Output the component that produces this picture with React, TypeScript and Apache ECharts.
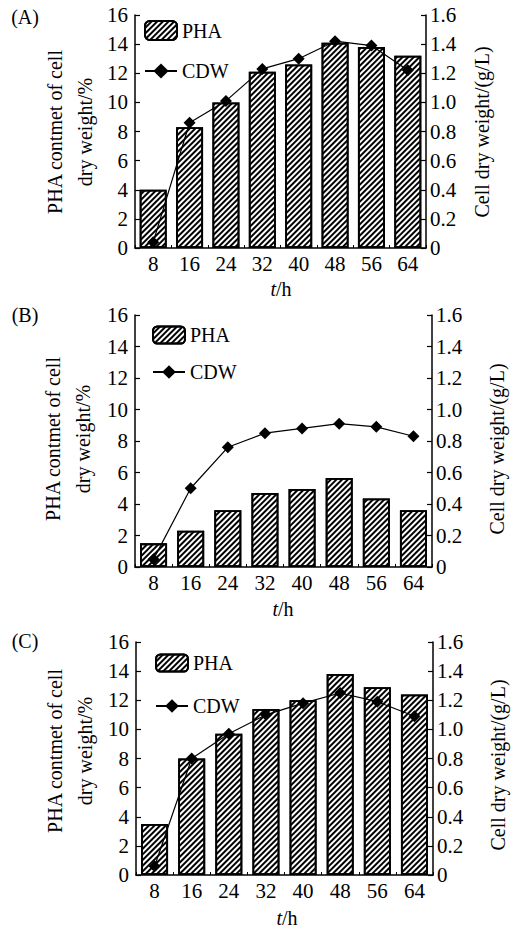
import React, { useEffect, useRef } from "react";
import * as echarts from "echarts";

const hours = ["8", "16", "24", "32", "40", "48", "56", "64"];
const phaA = [4.0, 8.3, 10.0, 12.1, 12.6, 14.1, 13.8, 13.2];
const cdwA = [0.04, 0.86, 1.01, 1.23, 1.3, 1.42, 1.39, 1.22];
const phaB = [1.5, 2.3, 3.6, 4.7, 4.95, 5.65, 4.35, 3.6];
const cdwB = [0.05, 0.5, 0.76, 0.85, 0.88, 0.91, 0.89, 0.83];
const phaC = [3.5, 8.0, 9.7, 11.4, 12.0, 13.8, 12.9, 12.4];
const cdwC = [0.06, 0.8, 0.97, 1.1, 1.18, 1.25, 1.19, 1.09];
const leftTicks = { min: 0, max: 16, interval: 2 };
const rightTicks = { min: 0, max: 1.6, interval: 0.2 };
const panelLabels = ["(A)", "(B)", "(C)"];
const leftTitle = "PHA contmet of cell\ndry weight/%";
const rightTitle = "Cell dry weight/(g/L)";

const FONT = "Liberation Serif";

export default function App() {
  const ref = useRef<HTMLDivElement>(null);
  useEffect(() => {
    if (!ref.current) return;
    const chart = echarts.init(ref.current, undefined, { renderer: "svg" });
    const grids = [
      { left: 135, top: 15, width: 291, height: 233 },
      { left: 135, top: 315, width: 297, height: 252 },
      { left: 136, top: 642, width: 297, height: 233 },
    ];
    const pha = [phaA, phaB, phaC];
    const cdw = [cdwA, cdwB, cdwC];
    const axisLine = { show: true, lineStyle: { color: "#000", width: 1.5 } };
    const label = { color: "#000", fontSize: 21, fontFamily: FONT };
    const decal = {
      symbol: "rect",
      symbolSize: 1,
      dashArrayX: [1, 0],
      dashArrayY: [1.7, 1.4],
      rotation: -Math.PI / 4,
      color: "#000",
      backgroundColor: "#fff",
    };
    const xAxis: any[] = [];
    const yAxis: any[] = [];
    const series: any[] = [];
    grids.forEach((g, i) => {
      xAxis.push({
        type: "category",
        gridIndex: i,
        data: hours,
        boundaryGap: true,
        axisLine,
        axisTick: { show: true, inside: true, length: 3, lineStyle: { color: "#000", width: 1 } },
        axisLabel: { ...label, margin: 5 },
        splitLine: { show: false },
      });
      yAxis.push({
        type: "value",
        gridIndex: i,
        position: "left",
        ...leftTicks,
        axisLine,
        axisTick: { show: true, inside: true, length: 5, lineStyle: { color: "#000", width: 1.2 } },
        axisLabel: { ...label, margin: 7 },
        splitLine: { show: false },
      });
      yAxis.push({
        type: "value",
        gridIndex: i,
        position: "right",
        ...rightTicks,
        axisLine,
        axisTick: { show: true, inside: true, length: 5, lineStyle: { color: "#000", width: 1.2 } },
        axisLabel: {
          ...label,
          margin: 4,
          formatter: (v: number) => (v === 0 ? "0" : v.toFixed(1)),
        },
        splitLine: { show: false },
      });
      series.push({
        name: "PHA",
        type: "bar",
        xAxisIndex: i,
        yAxisIndex: i * 2,
        data: pha[i],
        barWidth: 27,
        itemStyle: { color: "#fff", borderColor: "#000", borderWidth: 1.8, decal },
        z: 2,
      });
      series.push({
        name: "CDW",
        type: "line",
        xAxisIndex: i,
        yAxisIndex: i * 2 + 1,
        data: cdw[i],
        symbol: "diamond",
        symbolSize: 12,
        lineStyle: { color: "#000", width: 1.2 },
        itemStyle: { color: "#000" },
        z: 3,
      });
    });
    const legendPos = [
      { left: 144, top: 20, itemHeight: 19, itemGap: 20 },
      { left: 152, top: 325, itemHeight: 17, itemGap: 17 },
      { left: 155, top: 653, itemHeight: 17, itemGap: 23 },
    ];
    const legend = legendPos.map((p) => ({
      left: p.left,
      top: p.top,
      orient: "vertical",
      itemWidth: 32,
      itemHeight: p.itemHeight,
      itemGap: p.itemGap,
      selectedMode: false,
      data: ["PHA", "CDW"],
      textStyle: { color: "#000", fontSize: 20, fontFamily: FONT },
      padding: 0,
    }));
    const txt = (x: number, y: number, text: string, rot = 0, rich?: any) => ({
      type: "text",
      x,
      y,
      rotation: rot,
      style: {
        text,
        fill: "#000",
        fontSize: 20,
        fontFamily: FONT,
        align: "center",
        verticalAlign: "middle",
        lineHeight: 30,
        rich,
      },
    });
    const italicRich = {
      i: { fontStyle: "italic", fontSize: 20, fontFamily: FONT, fill: "#000" },
      n: { fontSize: 20, fontFamily: FONT, fill: "#000" },
    };
    const graphic = [
      txt(25, 17, panelLabels[0]),
      txt(25, 315, panelLabels[1]),
      txt(25, 641, panelLabels[2]),
      txt(70, 132, leftTitle, Math.PI / 2),
      txt(68, 439, leftTitle, Math.PI / 2),
      txt(70, 751, leftTitle, Math.PI / 2),
      txt(482, 132, rightTitle, Math.PI / 2),
      txt(497, 449, rightTitle, Math.PI / 2),
      txt(498, 765, rightTitle, Math.PI / 2),
      txt(281, 289, "{i|t}{n|/h}", 0, italicRich),
      txt(283, 609, "{i|t}{n|/h}", 0, italicRich),
      txt(287, 918, "{i|t}{n|/h}", 0, italicRich),
    ];
    chart.setOption({
      animation: false,
      backgroundColor: "#fff",
      grid: grids,
      xAxis,
      yAxis,
      series,
      legend,
      graphic,
    });
    return () => chart.dispose();
  }, []);
  return (
    <div
      ref={ref}
      style={{ position: "fixed", left: 0, top: 0, width: 521, height: 930, background: "#fff" }}
    />
  );
}
